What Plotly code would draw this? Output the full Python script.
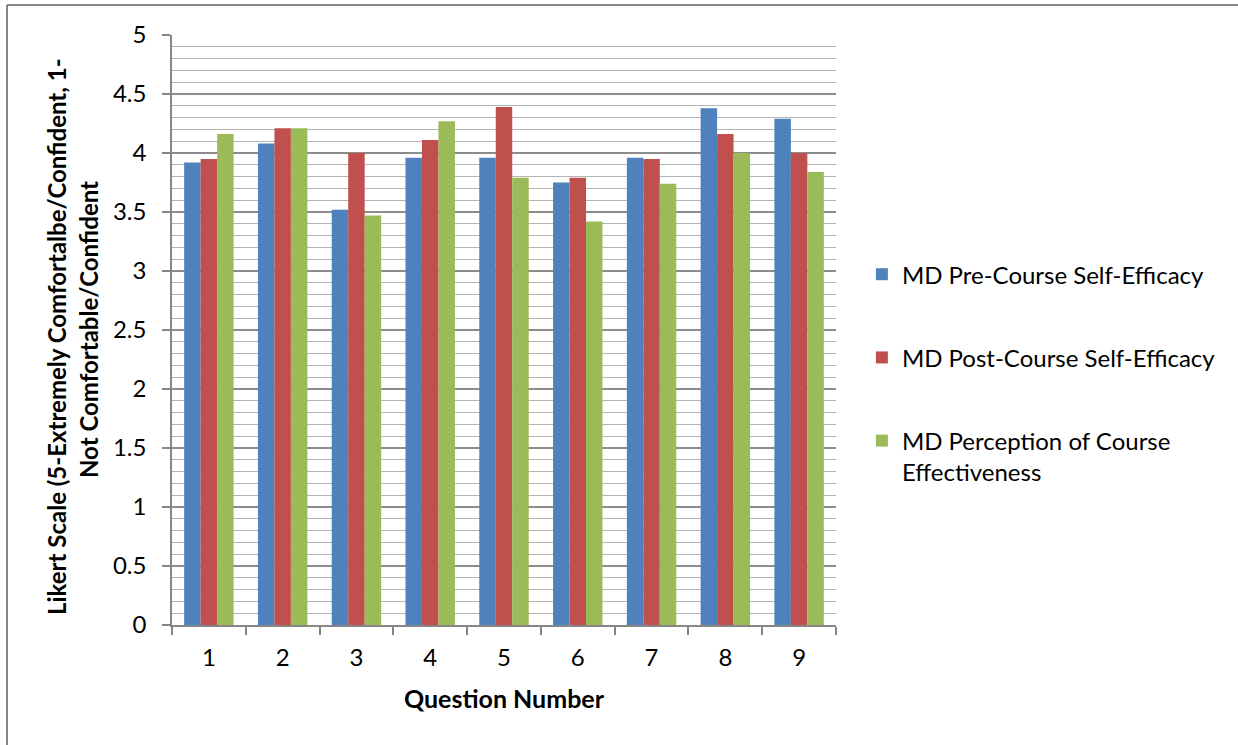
import plotly.graph_objects as go

questions = ["1", "2", "3", "4", "5", "6", "7", "8", "9"]
pre_course = [3.92, 4.08, 3.52, 3.96, 3.96, 3.75, 3.96, 4.38, 4.29]
post_course = [3.95, 4.21, 4.00, 4.11, 4.39, 3.79, 3.95, 4.16, 4.00]
perception = [4.16, 4.21, 3.47, 4.27, 3.79, 3.42, 3.74, 4.00, 3.84]

series_names = [
    "MD Pre-Course Self-Efficacy",
    "MD Post-Course Self-Efficacy",
    "MD Perception of Course<br>Effectiveness",
]
series_colors = ["#4F81BD", "#C0504D", "#9BBB59"]

y_title_lines = [
    "Likert Scale (5-Extremely Comfortalbe/Confident, 1-",
    "Not Comfortable/Confident",
]

FONT = "Lato, 'Open Sans', sans-serif"

# plot-area geometry in pixels, used to place the frame and the y title
L, R, T, B = 172, 402, 35, 120
W, H = 1238, 745
pw, ph = W - L - R, H - T - B


def px_x(x):
    return (x - L) / pw


def px_y(y):
    return (H - B - y) / ph


fig = go.Figure()
for i, (name, vals, col) in enumerate(zip(series_names, [pre_course, post_course, perception], series_colors)):
    fig.add_trace(go.Bar(
        x=questions, y=vals, name=name,
        marker=dict(color=col, line=dict(width=0)),
        legendgroup=f"g{i}",
    ))

fig.update_layout(
    width=W, height=H,
    margin=dict(l=L, r=R, t=T, b=B, autoexpand=False),
    paper_bgcolor="white", plot_bgcolor="white",
    barmode="group", bargap=0.33, bargroupgap=0,
    font=dict(family=FONT, size=24, color="black"),
    legend=dict(
        x=1.039, xanchor="left", xref="paper",
        y=0.632, yanchor="top",
        font=dict(family=FONT, size=24, color="black"),
        tracegroupgap=49, valign="top",
        itemwidth=30,
    ),
    showlegend=True,
)

fig.update_xaxes(
    type="category",
    showline=True, linecolor="#868686", linewidth=1.5,
    ticks="outside", tickson="boundaries", ticklen=8, tickcolor="#868686", tickwidth=1.5,
    tickfont=dict(family=FONT, size=24), ticklabelstandoff=10,
    title=dict(text="<b>Question Number</b>", font=dict(family=FONT, size=25), standoff=21),
    showgrid=False,
)
fig.update_yaxes(
    range=[0, 5], dtick=0.5, tick0=0,
    showline=True, linecolor="#868686", linewidth=1.5,
    ticks="outside", ticklen=8, tickcolor="#868686", tickwidth=1.5,
    tickfont=dict(family=FONT, size=24), ticklabelstandoff=11,
    showgrid=True, gridcolor="#8c8c8c", gridwidth=1.5,
    minor=dict(tickmode="array", tickvals=[k / 10 for k in range(51)],
               showgrid=True, gridcolor="#b4b4b4", gridwidth=1.2, ticks=""),
    zeroline=False,
)

# two-line rotated y-axis title
for text, cx, cy in zip(y_title_lines, [57, 88], [337, 330]):
    fig.add_annotation(
        text=f"<b>{text}</b>", textangle=-90,
        xref="paper", yref="paper", x=px_x(cx), y=px_y(cy),
        xanchor="center", yanchor="middle", showarrow=False,
        font=dict(family=FONT, size=24, color="black"),
    )

# chart frame (top and left edges)
fx, fy = px_x(7), px_y(5)
fig.add_shape(type="line", xref="paper", yref="paper", x0=fx, x1=3.0, y0=fy, y1=fy,
              line=dict(color="#868686", width=2), layer="above")
fig.add_shape(type="line", xref="paper", yref="paper", x0=fx, x1=fx, y0=-1.0, y1=fy,
              line=dict(color="#868686", width=2), layer="above")

fig.write_html("out.html")
